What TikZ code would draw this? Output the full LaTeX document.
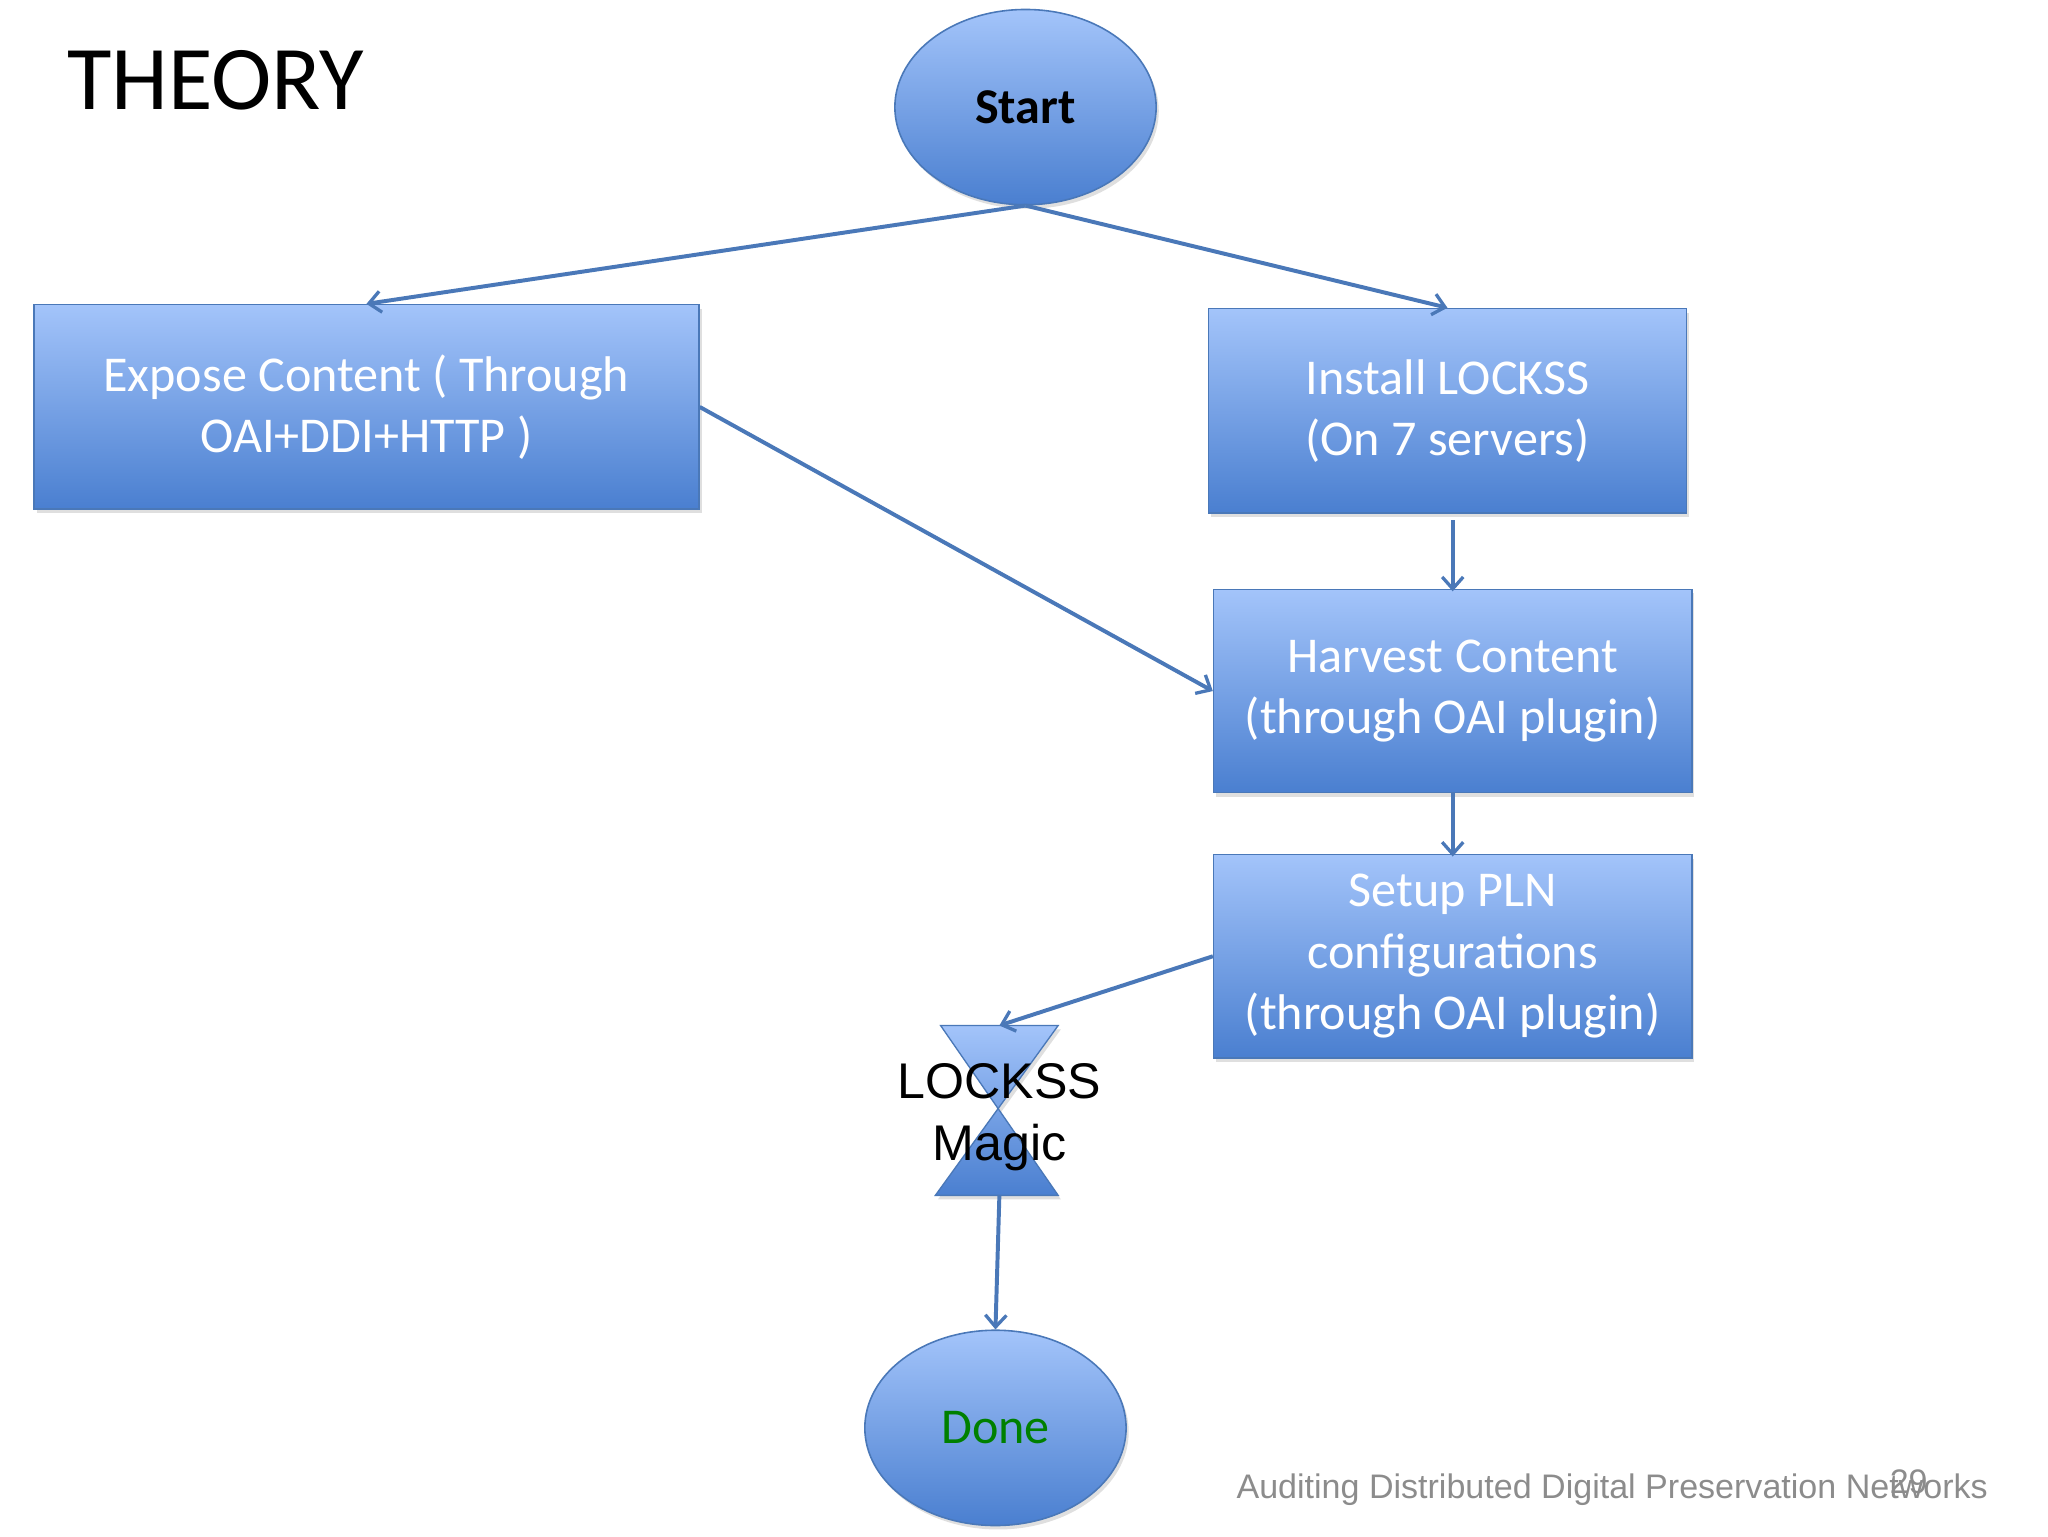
\documentclass[tikz,border=0pt]{standalone}
\usepackage{fontspec}
\setmainfont{Carlito}
\newfontfamily\arial{Liberation Sans}
\usetikzlibrary{shapes.geometric,arrows.meta,shadows}
\definecolor{topc}{HTML}{A3C4FA}
\definecolor{botc}{HTML}{4A7FD0}
\definecolor{edge}{HTML}{4A78B8}
\definecolor{arr}{HTML}{4A78B8}
\begin{document}
\begin{tikzpicture}[x=0.99pt,y=-0.99pt,
  box/.style={draw=edge,line width=1.2pt,top color=topc,bottom color=botc,minimum width=#1*0.99pt,align=center,text=white,font=\fontsize{38}{46.5}\selectfont,drop shadow={opacity=0.25,shadow xshift=2pt,shadow yshift=-3pt}},
  oval/.style={ellipse,draw=edge,line width=1.2pt,top color=topc,bottom color=botc,minimum width=198pt,minimum height=148pt,drop shadow={opacity=0.25,shadow xshift=2pt,shadow yshift=-3pt}},
  con/.style={draw=arr,line width=3pt,-{Straight Barb[length=9pt,width=16pt,line width=2.5pt]}}]
\useasboundingbox (0,0) rectangle (1567.7,1175.8);
\node[anchor=base west,font=\fontsize{69}{69}\selectfont] (title) at (48,84) {THEORY};
\node[oval,font=\bfseries\fontsize{38}{40}\selectfont] (start) at (785,82) {Start};
\node[box=509,minimum height=155pt] (expose) at (280.5,311.5) {Expose Content ( Through\\OAI+DDI+HTTP )};
\node[box=366,minimum height=155pt] (install) at (1108,314.5) {Install LOCKSS\\(On 7 servers)};
\node[box=366,minimum height=154pt] (harvest) at (1112,529) {Harvest Content\\(through OAI plugin)};
\node[box=366,minimum height=154pt] (setup) at (1112,732) {Setup PLN\\configurations\\(through OAI plugin)};
\coordinate (hg) at (765,855);
\path[draw=edge,line width=1pt,top color=topc,bottom color=botc,drop shadow={opacity=0.25,shadow xshift=2pt,shadow yshift=-3pt}]
  (720,785) -- (810,785) -- (716,915) -- (810,915) -- cycle;
\node[align=center,font=\arial\fontsize{38}{47}\selectfont] (magic) at (hg) {LOCKSS\\Magic};
\coordinate (hgtop) at (765,785);
\coordinate (hgbot) at (765,915);
\node[oval,text={rgb,255:red,0;green,128;blue,0},font=\fontsize{38}{40}\selectfont] (done) at (762,1093) {Done};
\node[anchor=base west,text=gray!90,font=\arial\fontsize{25.8}{26}\selectfont] (foot) at (943,1147) {Auditing Distributed Digital Preservation Networks};
\node[anchor=base west,text=gray!90,font=\arial\fontsize{25.8}{26}\selectfont] (pg) at (1443,1143) {29};
\draw[con] (start.south) -- (expose.north);
\draw[con] (start.south) -- (install.north);
\draw[con] (expose.east) -- (harvest.west);
\draw[con] (install.south) ++(4,5) -- ([yshift=-2pt]harvest.north);
\draw[con] (harvest.south) -- ([yshift=-2pt]setup.north);
\draw[con] (setup.west) -- (hgtop);
\draw[con] (hgbot) -- (done.north);
\end{tikzpicture}
\end{document}
